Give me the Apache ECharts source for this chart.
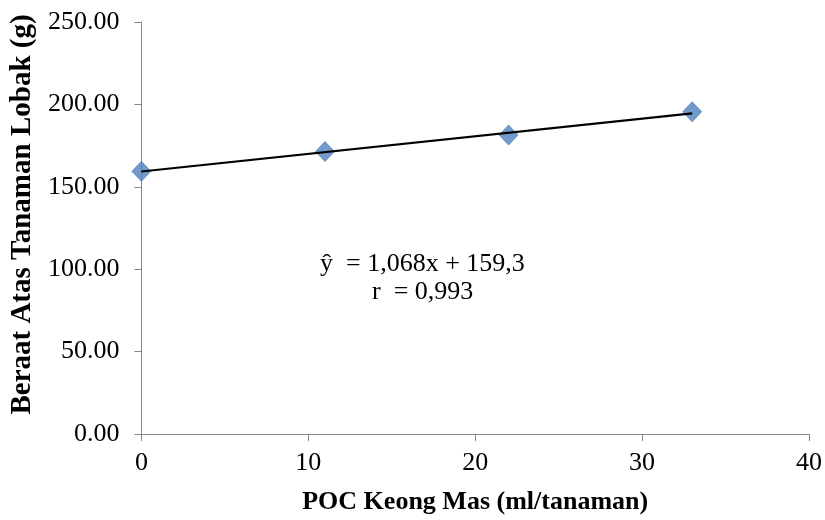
<!DOCTYPE html>
<html>
<head>
<meta charset="utf-8">
<script src="https://cdn.jsdelivr.net/npm/echarts@6/dist/echarts.min.js"></script>
<style>html,body{margin:0;padding:0;background:#fff}#c{width:825px;height:520px}</style>
</head>
<body>
<div id="c"></div>
<script>
var xValues = [0, 11, 22, 33];
var yValues = [159.4, 171.4, 181.4, 195.5];
var trendX = [0, 33];
var trendY = [159.3, 194.5];
var xTicks = [0, 10, 20, 30, 40];
var yTicks = [0, 50, 100, 150, 200, 250];
var xTitle = 'POC Keong Mas (ml/tanaman)';
var yTitle = 'Beraat Atas Tanaman Lobak (g)';
var eqLine1 = 'ŷ  = 1,068x + 159,3';
var eqLine2 = 'r  = 0,993';

var font = '"Liberation Serif", "Times New Roman", serif';
var chart = echarts.init(document.getElementById('c'));
var axisColor = '#868686';
chart.setOption({
  animation: false,
  grid: {left: 138, right: 14, top: 22, bottom: 82},
  xAxis: {
    type: 'value', min: xTicks[0], max: xTicks[xTicks.length - 1], interval: 10,
    name: xTitle, nameLocation: 'middle', nameGap: 55,
    nameTextStyle: {fontFamily: font, fontSize: 26, fontWeight: 'bold', color: '#000'},
    axisLine: {show: true, lineStyle: {color: axisColor, width: 1}},
    axisTick: {show: true, inside: false, length: 7, lineStyle: {color: axisColor}},
    axisLabel: {fontFamily: font, fontSize: 26, color: '#000', margin: 16},
    splitLine: {show: false}
  },
  yAxis: {
    type: 'value', min: yTicks[0], max: yTicks[yTicks.length - 1], interval: 50,
    name: yTitle, nameLocation: 'middle', nameGap: 100, nameRotate: 90,
    nameTextStyle: {fontFamily: font, fontSize: 29, fontWeight: 'bold', color: '#000', padding: [0, 0, 0, 27]},
    axisLine: {show: true, lineStyle: {color: axisColor, width: 1}},
    axisTick: {show: true, inside: false, length: 7, lineStyle: {color: axisColor}},
    axisLabel: {fontFamily: font, fontSize: 26, color: '#000', margin: 22,
      formatter: function (v) { return v.toFixed(2); }},
    splitLine: {show: false}
  },
  series: [
    {
      type: 'line',
      data: trendX.map(function (x, i) { return [x, trendY[i]]; }),
      showSymbol: false, symbol: 'none',
      lineStyle: {color: '#000', width: 2.2},
      z: 3
    },
    {
      type: 'scatter',
      data: xValues.map(function (x, i) { return [x, yValues[i]]; }),
      symbol: 'diamond', symbolSize: [19, 20],
      itemStyle: {color: '#4F81BD', borderColor: '#4672ab', borderWidth: 0.8},
      z: 2
    }
  ],
  graphic: [
    {type: 'text', left: 320, top: 251, style: {text: eqLine1, font: '26px ' + font, fill: '#000'}},
    {type: 'text', left: 372, top: 279, style: {text: eqLine2, font: '26px ' + font, fill: '#000'}}
  ]
});
</script>
</body>
</html>
